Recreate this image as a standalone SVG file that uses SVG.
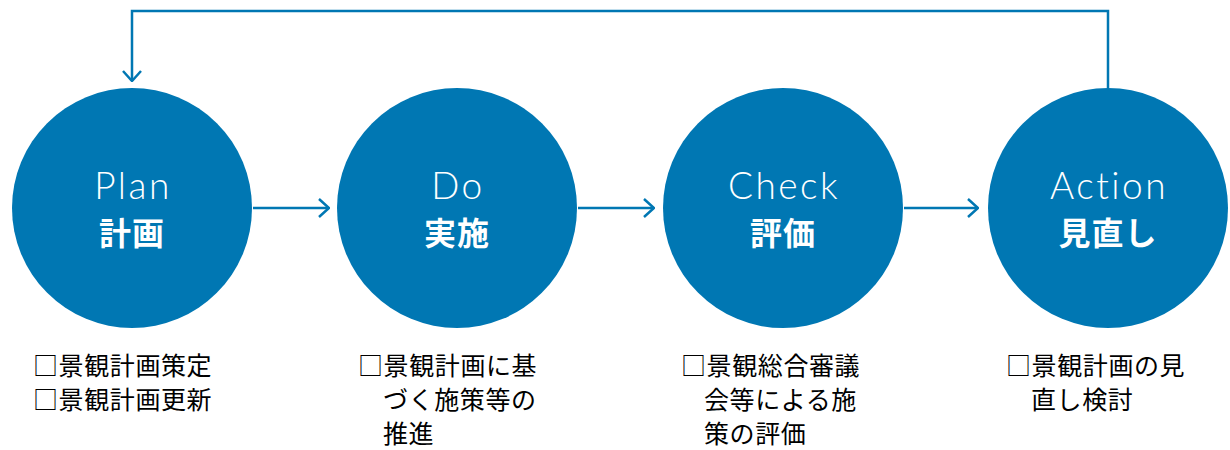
<svg xmlns="http://www.w3.org/2000/svg" width="1230" height="450" viewBox="0 0 1230 450">
<style>
.c{fill:#0077B3}
.en{font-family:"Lato","Noto Sans",sans-serif;font-weight:300;font-size:37px;letter-spacing:2.5px;fill:#fff;text-anchor:middle}
.ja{font-family:"Noto Sans CJK JP",sans-serif;font-weight:700;font-size:32px;letter-spacing:1px;fill:#fff;text-anchor:middle}
.d{font-family:"Noto Sans CJK JP",sans-serif;font-size:25px;letter-spacing:0.6px;fill:#000}
.ln{fill:none;stroke:#0077B3;stroke-width:2.5}
</style>
<defs>
<marker id="ah" viewBox="0 0 12 20" refX="11" refY="10" markerWidth="12" markerHeight="20" markerUnits="userSpaceOnUse" orient="auto">
<path d="M1,1 L11,10 L1,19" fill="none" stroke="#0077B3" stroke-width="2.5"/>
</marker>
</defs>
<g id="connectors">
<path class="ln" d="M253,208 H329" marker-end="url(#ah)"/>
<path class="ln" d="M578,208 H654" marker-end="url(#ah)"/>
<path class="ln" d="M904,208 H978" marker-end="url(#ah)"/>
<path class="ln" d="M1108,88 V11 H132 V81" marker-end="url(#ah)"/>
</g>
<g id="plan">
<circle class="c" cx="132" cy="208" r="120"/>
<text class="en" x="133" y="199">Plan</text>
<text class="ja" x="132" y="245">計画</text>
</g>
<g id="do">
<circle class="c" cx="457" cy="208" r="120"/>
<text class="en" x="458" y="199">Do</text>
<text class="ja" x="457" y="245">実施</text>
</g>
<g id="check">
<circle class="c" cx="783" cy="208" r="120"/>
<text class="en" x="784" y="199">Check</text>
<text class="ja" x="783" y="245">評価</text>
</g>
<g id="action">
<circle class="c" cx="1108" cy="208" r="120"/>
<text class="en" x="1109" y="199">Action</text>
<text class="ja" x="1108" y="245">見直し</text>
</g>
<g id="plan-notes">
<text class="d" x="33" y="375">□景観計画策定</text>
<text class="d" x="33" y="409">□景観計画更新</text>
</g>
<g id="do-notes">
<text class="d" x="358" y="375">□景観計画に基</text>
<text class="d" x="383" y="409">づく施策等の</text>
<text class="d" x="383" y="443">推進</text>
</g>
<g id="check-notes">
<text class="d" x="681" y="375">□景観総合審議</text>
<text class="d" x="704" y="409">会等による施</text>
<text class="d" x="704" y="443">策の評価</text>
</g>
<g id="action-notes">
<text class="d" x="1006" y="375">□景観計画の見</text>
<text class="d" x="1031" y="409">直し検討</text>
</g>
</svg>
